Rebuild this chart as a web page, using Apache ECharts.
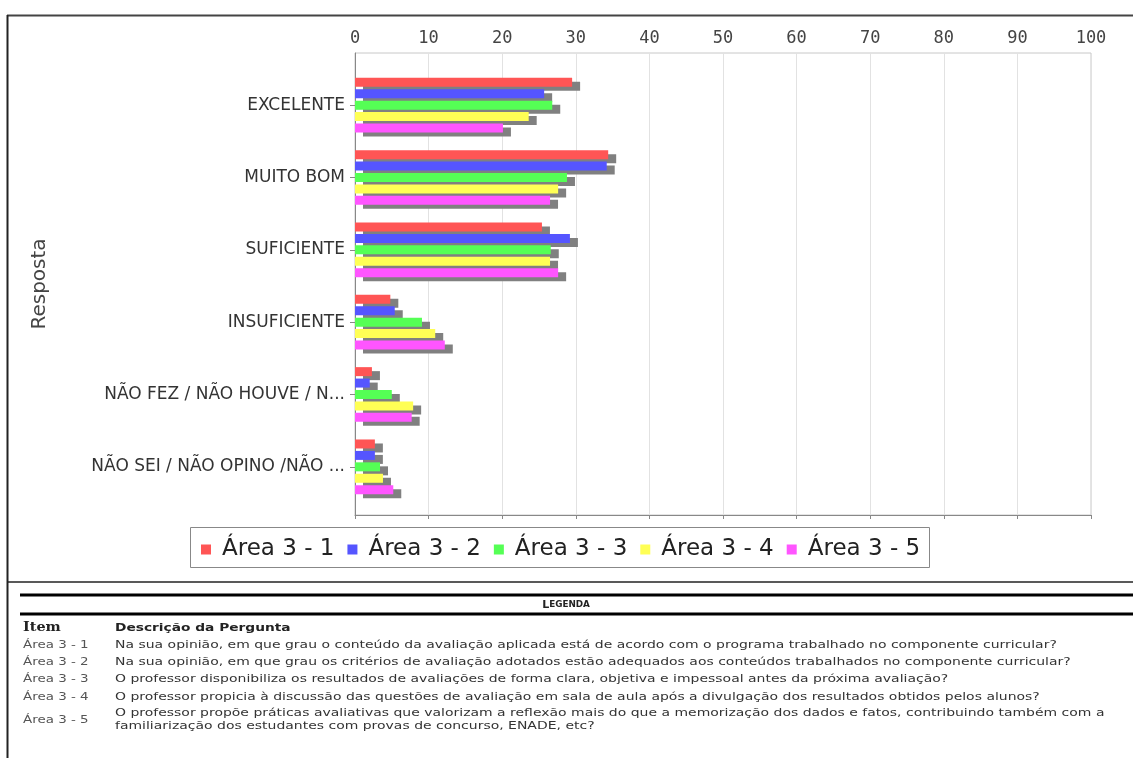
<!DOCTYPE html>
<html>
<head>
<meta charset="utf-8">
<script src="https://cdn.jsdelivr.net/npm/echarts@6/dist/echarts.min.js"></script>
<style>
html,body{margin:0;padding:0;background:#fff;}
#chart{width:1133px;height:758px;}
</style>
</head>
<body>
<div id="chart"></div>
<script>
// ---- data ----
const categories = ['EXCELENTE', 'MUITO BOM', 'SUFICIENTE', 'INSUFICIENTE', 'NÃO FEZ / NÃO HOUVE / N...', 'NÃO SEI / NÃO OPINO /NÃO ...'];
const seriesNames = ['Área 3 - 1', 'Área 3 - 2', 'Área 3 - 3', 'Área 3 - 4', 'Área 3 - 5'];
const area1 = [29.5, 34.4, 25.4, 4.8, 2.3, 2.7];
const area2 = [25.7, 34.2, 29.2, 5.4, 2.0, 2.7];
const area3 = [26.8, 28.8, 26.6, 9.1, 5.0, 3.4];
const area4 = [23.6, 27.6, 26.5, 10.9, 7.9, 3.8];
const area5 = [20.1, 26.5, 27.6, 12.2, 7.7, 5.2];
const axisTitle = 'Resposta';
const tableTitle = 'Legenda';
const tableHeaders = ['Item', 'Descrição da Pergunta'];
const descriptions = [
  'Na sua opinião, em que grau o conteúdo da avaliação aplicada está de acordo com o programa trabalhado no componente curricular?',
  'Na sua opinião, em que grau os critérios de avaliação adotados estão adequados aos conteúdos trabalhados no componente curricular?',
  'O professor disponibiliza os resultados de avaliações de forma clara, objetiva e impessoal antes da próxima avaliação?',
  'O professor propicia à discussão das questões de avaliação em sala de aula após a divulgação dos resultados obtidos pelos alunos?',
  'O professor propõe práticas avaliativas que valorizam a reflexão mais do que a memorização dos dados e fatos, contribuindo também com a\nfamiliarização dos estudantes com provas de concurso, ENADE, etc?'
];

const colors = ['#ff5555', '#5555ff', '#55ff55', '#ffff55', '#ff55ff'];
const values = [area1, area2, area3, area4, area5];

const chart = echarts.init(document.getElementById('chart'));

const series = seriesNames.map((name, i) => ({
  name: name,
  type: 'bar',
  xAxisIndex: 1,
  yAxisIndex: 1,
  data: values[i],
  barWidth: 9,
  barGap: '27%',
  itemStyle: {
    color: colors[i],
    shadowColor: '#808080',
    shadowOffsetX: 8,
    shadowOffsetY: 4,
    shadowBlur: 0
  },
  emphasis: { disabled: true },
  silent: true,
  animation: false
}));

const g = [];
// outer frame
g.push({ type: 'line', shape: { x1: 7, y1: 15.5, x2: 1133, y2: 15.5 }, style: { stroke: '#444', lineWidth: 2 } });
g.push({ type: 'line', shape: { x1: 7.5, y1: 15, x2: 7.5, y2: 758 }, style: { stroke: '#222', lineWidth: 2 } });
g.push({ type: 'line', shape: { x1: 7, y1: 582, x2: 1133, y2: 582 }, style: { stroke: '#222', lineWidth: 1.5 } });
// legend box
g.push({ type: 'rect', shape: { x: 190.5, y: 527.5, width: 739, height: 40 }, style: { fill: 'none', stroke: '#888', lineWidth: 1 } });
// table lines
g.push({ type: 'line', shape: { x1: 20, y1: 595, x2: 1133, y2: 595 }, style: { stroke: '#000', lineWidth: 3 } });
g.push({ type: 'line', shape: { x1: 20, y1: 614, x2: 1133, y2: 614 }, style: { stroke: '#000', lineWidth: 3 } });
// table title (small caps)
g.push({ type: 'text', x: 566, y: 605, scaleX: 1.1, style: {
  text: '{a|' + tableTitle.charAt(0).toUpperCase() + '}{b|' + tableTitle.slice(1).toUpperCase() + '}',
  x: 0, y: 0, align: 'center', verticalAlign: 'middle',
  rich: { a: { fontSize: 10, fontWeight: 'bold', fontFamily: 'DejaVu Sans', fill: '#222' },
          b: { fontSize: 8, fontWeight: 'bold', fontFamily: 'DejaVu Sans', fill: '#222' } }
}});
g.push({ type: 'text', x: 23, y: 628, scaleX: 1.2, style: { text: tableHeaders[0], x: 0, y: 0, verticalAlign: 'middle', font: 'bold 12px "DejaVu Serif"', fill: '#222' } });
g.push({ type: 'text', x: 115, y: 628, scaleX: 1.25, style: { text: tableHeaders[1], x: 0, y: 0, verticalAlign: 'middle', font: 'bold 11px "DejaVu Sans"', fill: '#222' } });
const rowY = [645, 662, 679, 697, 720];
seriesNames.forEach((name, i) => {
  g.push({ type: 'text', x: 23, y: rowY[i], scaleX: 1.22, style: { text: name, x: 0, y: 0, verticalAlign: 'middle', font: '11px "DejaVu Sans"', fill: '#555' } });
  g.push({ type: 'text', x: 115, y: rowY[i], scaleX: 1.27, style: { text: descriptions[i], x: 0, y: 0, verticalAlign: 'middle', font: '11px "DejaVu Sans"', lineHeight: 13, fill: '#333' } });
});

const option = {
  backgroundColor: '#fff',
  animation: false,
  grid: [
    { left: 355, right: 42, top: 53, bottom: 243, show: true, borderColor: '#c8c8c8', borderWidth: 1 },
    { left: 355, right: 42, top: 69, height: 434 }
  ],
  xAxis: [
    { gridIndex: 0, type: 'value', position: 'top', min: 0, max: 100, interval: 10,
      axisLine: { show: true, lineStyle: { color: '#888', width: 1 } },
      axisTick: { show: true, inside: true, length: 4, lineStyle: { color: '#888' } },
      axisLabel: { margin: 6, fontFamily: 'DejaVu Sans Mono', fontSize: 17, color: '#444' },
      splitLine: { show: true, lineStyle: { color: '#e2e2e2', width: 1 } } },
    { gridIndex: 1, type: 'value', min: 0, max: 100, show: false }
  ],
  yAxis: [
    { gridIndex: 0, type: 'value', min: 0, max: 1,
      axisLine: { show: true, lineStyle: { color: '#888' } },
      axisTick: { show: false }, axisLabel: { show: false }, splitLine: { show: false },
      name: axisTitle, nameLocation: 'middle', nameGap: 305, nameRotate: 90,
      nameTextStyle: { fontFamily: 'DejaVu Sans', fontSize: 20, color: '#444' } },
    { gridIndex: 1, type: 'category', inverse: true, data: categories,
      axisLine: { show: false },
      axisTick: { show: true, alignWithLabel: true, length: 5, lineStyle: { color: '#888' } },
      axisLabel: { margin: 10, fontFamily: 'DejaVu Sans', fontSize: 17, color: '#333' },
      splitLine: { show: false } }
  ],
  legend: {
    data: seriesNames,
    left: 196, top: 533,
    orient: 'horizontal',
    itemWidth: 10, itemHeight: 10, itemGap: 13,
    icon: 'rect',
    textStyle: { fontFamily: 'DejaVu Sans', fontSize: 23, color: '#222', padding: [0, 0, 0, 6] },
    selectedMode: false
  },
  graphic: g,
  series: series
};
chart.setOption(option);
</script>
</body>
</html>
